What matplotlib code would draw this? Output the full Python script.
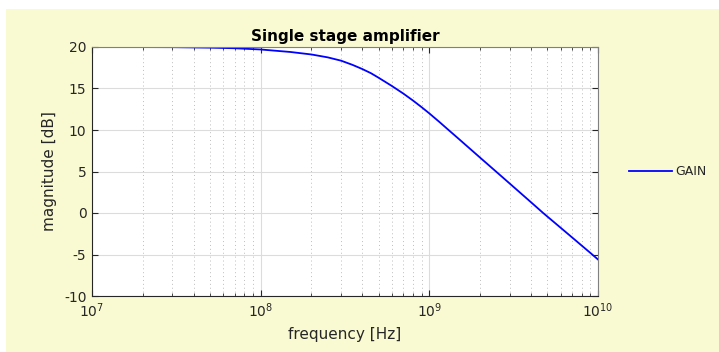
import matplotlib
matplotlib.use("Agg")
import matplotlib.pyplot as plt
from matplotlib.patches import Rectangle
from matplotlib.ticker import LogLocator

# values
freq = [1e7, 2e7, 3e7, 5e7, 7e7, 1e8, 1.5e8, 2e8, 2.5e8, 3e8, 3.5e8, 4e8, 4.5e8,
        5e8, 6e8, 7e8, 8e8, 9e8, 1e9, 1.15e9, 1.3e9, 1.5e9, 2e9, 2.5e9, 3e9,
        4e9, 4.73e9, 6e9, 7e9, 8e9, 9e9, 1e10]
gain_db = [20.0, 19.99, 19.98, 19.92, 19.85, 19.7, 19.4, 19.1, 18.75, 18.35, 17.85, 17.35, 16.85,
           16.3, 15.3, 14.4, 13.55, 12.75, 12.0, 10.95, 10.0, 8.9, 6.67, 4.95, 3.54,
           1.31, 0.0, -1.77, -2.92, -3.92, -4.8, -5.6]
y_ticks = [-10, -5, 0, 5, 10, 15, 20]

W, H = 719, 352
fig = plt.figure(figsize=(W / 100, H / 100), dpi=100, facecolor="white")
fig.patches.append(Rectangle((6 / W, 0), 1 - 6 / W, 1 - 9 / H, transform=fig.transFigure,
                             facecolor="#fafad2", edgecolor="none", zorder=-10))

ax = fig.add_axes([92 / W, 1 - 296 / H, (598 - 92) / W, (296 - 47) / H])
ax.set_facecolor("white")
ax.semilogx(freq, gain_db, color="#0000ff", lw=1.3, label="GAIN")

ax.set_xlim(1e7, 1e10)
ax.set_ylim(-10, 20)
ax.set_yticks(y_ticks)
ax.set_yticklabels([str(v) for v in y_ticks])
ax.xaxis.set_major_locator(LogLocator(base=10, numticks=10))
ax.xaxis.set_minor_locator(LogLocator(base=10, subs=range(2, 10), numticks=20))

ax.grid(True, which="major", color="#dcdcdc", lw=0.8, ls="-")
ax.grid(True, which="minor", color="#bdbdbd", lw=0.7, ls=(0, (1, 3)))
ax.set_axisbelow(True)

txt = "#262626"
ax.tick_params(which="both", direction="in", top=True, right=True, colors=txt,
               labelsize=10, pad=4)
ax.tick_params(which="major", length=4)
ax.tick_params(which="minor", length=2.5)
for s in ["left", "bottom"]:
    ax.spines[s].set_color("#262626")
for s in ["top", "right"]:
    ax.spines[s].set_color("#808080")

ax.set_title("Single stage amplifier", fontsize=11, fontweight="bold", color="black", pad=4)
ax.set_xlabel("frequency [Hz]", fontsize=11, color=txt, labelpad=5)
ax.set_ylabel("magnitude [dB]", fontsize=11, color=txt, labelpad=5)

ax.legend(loc="center left", bbox_to_anchor=(1.04, 0.5), frameon=False, fontsize=9,
          handlelength=3.4, handletextpad=0.3, labelcolor=txt)

fig.savefig("out.png", dpi=100, facecolor=fig.get_facecolor())
